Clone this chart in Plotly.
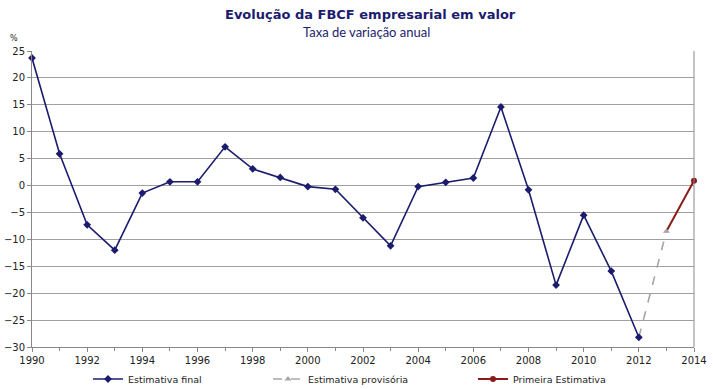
import plotly.graph_objects as go

years_final = list(range(1990, 2013))
vals_final = [23.7, 5.9, -7.3, -12.0, -1.4, 0.7, 0.7, 7.2, 3.1, 1.5, -0.2, -0.7,
              -6.0, -11.2, -0.2, 0.6, 1.4, 14.6, -0.8, -18.5, -5.5, -15.9, -28.2]
years_prov = [2012, 2013]
vals_prov = [-28.2, -8.5]
years_first = [2013, 2014]
vals_first = [-8.5, 0.9]

W, H = 713, 389
L, R, T, B = 32, 19, 51, 42
pw, ph = W - L - R, H - T - B


def px2x(px):
    return (px - L) / pw


def px2y(py):
    return (H - B - py) / ph


navy = "#1C1C6E"
red = "#8B1A1A"
fig = go.Figure()
# drawn from 2014 back to 2013 so that only the 2014 point shows a marker
fig.add_trace(go.Scatter(x=years_first[::-1], y=vals_first[::-1], mode="lines+markers",
                         name="Primeira Estimativa", legend="legend3", cliponaxis=False,
                         line=dict(color=red, width=2),
                         marker=dict(symbol="circle", size=6, color=[red, "rgba(0,0,0,0)"],
                                     line=dict(width=0))))
fig.add_trace(go.Scatter(x=years_prov, y=vals_prov, mode="lines+markers",
                         name="Estimativa provisória", legend="legend2", cliponaxis=False,
                         line=dict(color="#A6A6A6", width=1.6, dash="dash"),
                         marker=dict(symbol="triangle-up", size=6, color="#A6A6A6")))
fig.add_trace(go.Scatter(x=years_final, y=vals_final, mode="lines+markers",
                         name="Estimativa final", legend="legend", cliponaxis=False,
                         line=dict(color=navy, width=1.6),
                         marker=dict(symbol="diamond", size=6, color=navy)))

font = "DejaVu Sans"
leg_common = dict(orientation="h", xanchor="left", yanchor="middle",
                  font=dict(size=9.5, color="#222222"), itemwidth=30,
                  bgcolor="rgba(0,0,0,0)")
fig.update_layout(
    width=W, height=H,
    margin=dict(l=L, r=R, t=T, b=B, autoexpand=False),
    plot_bgcolor="white", paper_bgcolor="white",
    font=dict(family=font, size=9, color="#222222"),
    showlegend=True,
    legend=dict(x=px2x(88), y=px2y(379), **leg_common),
    legend2=dict(x=px2x(268), y=px2y(379), **leg_common),
    legend3=dict(x=px2x(473), y=px2y(379), **leg_common),
    xaxis=dict(range=[1990, 2014], dtick=2, tick0=1990, showgrid=False,
               showline=True, linecolor="#888888", linewidth=1,
               ticks="outside", ticklen=4, tickcolor="#888888",
               minor=dict(dtick=1, ticks="outside", ticklen=3, tickcolor="#888888"),
               zeroline=False, tickfont=dict(size=10)),
    yaxis=dict(range=[-30, 25], dtick=5, showgrid=True, gridcolor="#A0A0A0",
               gridwidth=1, showline=True, linecolor="#888888", linewidth=1,
               ticks="outside", ticklen=4, tickcolor="#888888",
               zeroline=False, tickfont=dict(size=10)),
    annotations=[
        dict(text="<b>Evolução da FBCF empresarial em valor</b>", x=px2x(370), y=px2y(14),
             xref="paper", yref="paper", showarrow=False, xanchor="center", yanchor="middle",
             font=dict(family=font, size=13, color="#1C1C6E")),
        dict(text="Taxa de variação anual", x=px2x(367), y=px2y(32),
             xref="paper", yref="paper", showarrow=False, xanchor="center", yanchor="middle",
             font=dict(family="Lato", size=13, color="#1C1C6E")),
        dict(text="%", x=px2x(14), y=px2y(38), xref="paper", yref="paper",
             showarrow=False, xanchor="center", yanchor="middle",
             font=dict(family=font, size=8, color="#222222")),
    ],
)
fig.add_shape(type="line", xref="paper", yref="paper", x0=1, x1=1, y0=0, y1=1,
              line=dict(color="#888888", width=1))
fig.write_html("out.html", config={"displayModeBar": False},
               post_script="document.body.style.margin='0';")
